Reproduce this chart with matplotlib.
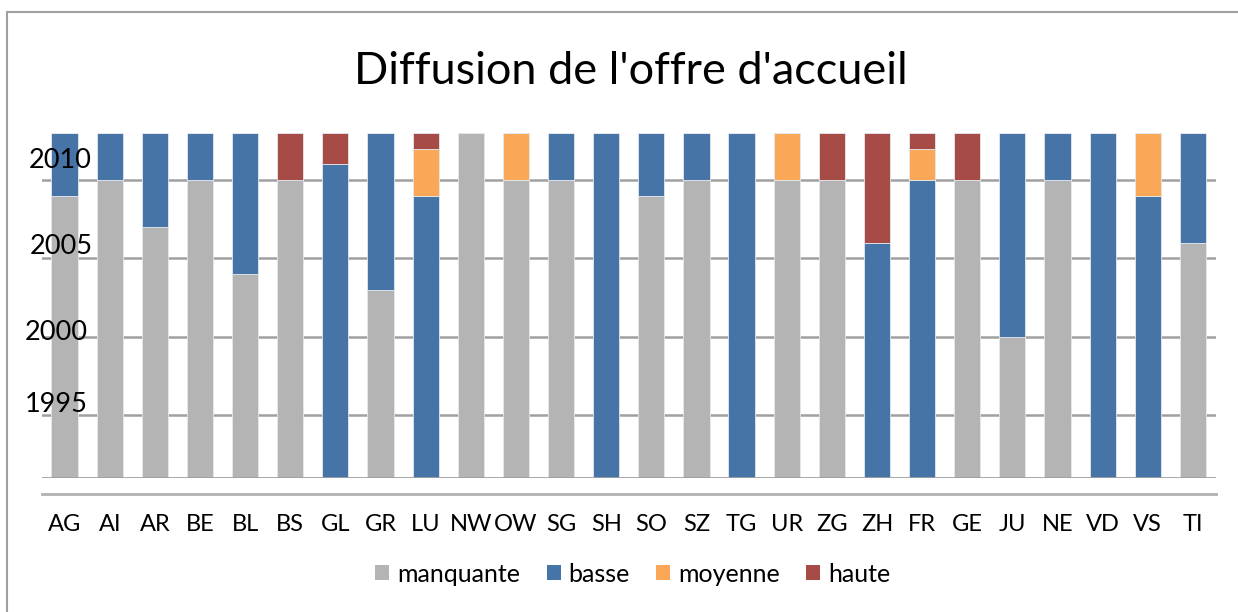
import matplotlib.pyplot as plt
import numpy as np
from matplotlib.patches import Rectangle
from matplotlib.lines import Line2D

plt.rcParams['font.family'] = ['Lato', 'DejaVu Sans']

# cantons
cantons = ['AG', 'AI', 'AR', 'BE', 'BL', 'BS', 'GL', 'GR', 'LU', 'NW', 'OW', 'SG', 'SH',
           'SO', 'SZ', 'TG', 'UR', 'ZG', 'ZH', 'FR', 'GE', 'JU', 'NE', 'VD', 'VS', 'TI']

# number of years in each level (starting in 1991)
start_year = 1991
manquante = [18, 19, 16, 19, 13, 19, 0, 12, 0, 22, 19, 19, 0,
             18, 19, 0, 19, 19, 0, 0, 19, 9, 19, 0, 0, 15]
basse = [4, 3, 6, 3, 9, 0, 20, 10, 18, 0, 0, 3, 22,
         4, 3, 22, 0, 0, 15, 19, 0, 13, 3, 22, 18, 7]
moyenne = [0, 0, 0, 0, 0, 0, 0, 0, 3, 0, 3, 0, 0,
           0, 0, 0, 3, 0, 0, 2, 0, 0, 0, 0, 4, 0]
haute = [0, 0, 0, 0, 0, 3, 2, 0, 1, 0, 0, 0, 0,
         0, 0, 0, 0, 3, 7, 1, 3, 0, 0, 0, 0, 0]

series = [('manquante', manquante, '#B4B4B4'),
          ('basse', basse, '#4674A6'),
          ('moyenne', moyenne, '#FAA857'),
          ('haute', haute, '#A64B45')]

W, H = 1238, 612
fig = plt.figure(figsize=(W / 100, H / 100), dpi=100)
ax = fig.add_axes([42 / W, (H - 478) / H, (1215.5 - 42) / W, (478 - 133) / H])

x = np.arange(len(cantons))
bottom = np.full(len(cantons), float(start_year))
handles = []
for name, vals, color in series:
    vals = np.array(vals, dtype=float)
    ax.bar(x, vals, 0.58, bottom=bottom, color=color, edgecolor='#E4E8EE',
           linewidth=0.6, zorder=3)
    bottom += vals
    handles.append(Rectangle((0, 0), 1, 1, facecolor=color))

ax.set_xlim(-0.5, len(cantons) - 0.5)
ax.set_ylim(1991, 2013)

# gridlines
for yv in [1995, 2000, 2005, 2010]:
    ax.axhline(yv, color='#A0A0A0', linewidth=1.8, zorder=1)

for s in ax.spines.values():
    s.set_visible(False)
ax.axhline(1991, color='#A0A0A0', linewidth=2, zorder=4)
ax.add_line(Line2D([0, 1], [-0.045, -0.045], transform=ax.transAxes,
                   color='#B0B0B0', linewidth=2, clip_on=False))

ax.set_xticks(x)
ax.set_xticklabels(cantons, fontsize=17)
ax.tick_params(axis='x', length=0, pad=26)
ax.set_yticks([])

# year labels, placed slightly above their gridlines
year_labels = ['2010', '2005', '2000', '1995']
label_pos = [(92, 161), (93, 247), (88, 333), (88, 405)]
for lab, (px, py) in zip(year_labels, label_pos):
    fig.text(px / W, 1 - py / H, lab, fontsize=19.5, ha='right', va='center')

fig.text(631 / W, 1 - 72 / H, "Diffusion de l'offre d'accueil", fontsize=32.5,
         ha='center', va='center')

fig.legend(handles, [s[0] for s in series], loc='center', ncol=4,
           bbox_to_anchor=(633 / W, 1 - 574 / H), frameon=False, fontsize=18,
           handlelength=0.56, handleheight=0.56, handletextpad=0.32,
           columnspacing=1.05)

# chart border
fig.add_artist(Rectangle((7 / W, -0.1), 1.2, 1.1 - 11.5 / H, transform=fig.transFigure,
                         fill=False, edgecolor='#A0A0A0', linewidth=1.5))

fig.savefig('out.png', dpi=100)
